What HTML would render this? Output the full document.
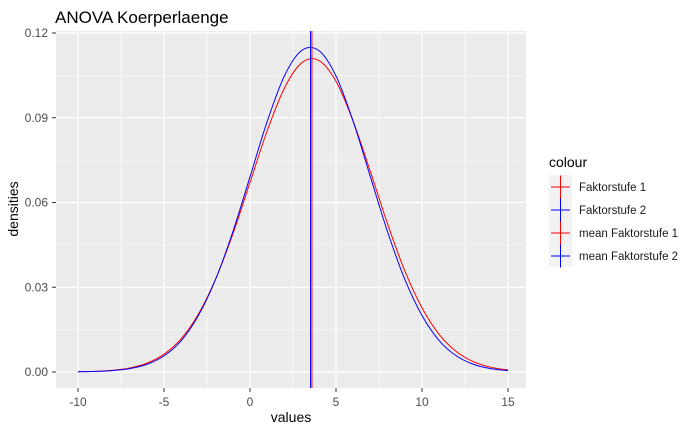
<!DOCTYPE html>
<html><head><meta charset="utf-8"><style>
body{margin:0;background:#fff;font-family:"Liberation Sans",sans-serif}
svg text{font-family:"Liberation Sans",sans-serif}
</style></head><body>
<svg id="chart" width="700" height="432">
<text x="55" y="23" font-size="17" fill="#000">ANOVA Koerperlaenge</text>
<rect x="56" y="31" width="470" height="357" fill="#ebebeb"/>
<g id="grid"></g><g id="axes"></g><g id="series"></g>
<text x="291" y="422" font-size="14" text-anchor="middle">values</text>
<text transform="translate(18,209) rotate(-90)" font-size="14" text-anchor="middle">densities</text>
<g>
<text x="549" y="167" font-size="14">colour</text>
<rect x="549" y="175" width="23" height="92" fill="#f2f2f2"/>
<g id="legend"></g>
</g>
</svg>
<script>
const xs=[-10,-9,-8,-7,-6,-5,-4,-3,-2,-1,0,1,2,3,4,5,6,7,8,9,10,11,12,13,14,15];
const dens1=[0.0001,0.0002,0.0006,0.0014,0.0031,0.0063,0.0118,0.0205,0.0329,0.0488,0.0671,0.0854,0.1005,0.1094,0.1103,0.1029,0.0887,0.0709,0.0524,0.0358,0.0227,0.0133,0.0072,0.0036,0.0017,0.0007];
const dens2=[0.0001,0.0002,0.0005,0.0012,0.0027,0.0057,0.0111,0.0200,0.0328,0.0496,0.0691,0.0887,0.1048,0.1138,0.1138,0.1048,0.0887,0.0691,0.0496,0.0328,0.0200,0.0111,0.0057,0.0027,0.0012,0.0005];
const means=[3.6,3.52];
const xTicks=[-10,-5,0,5,10,15];
const yTicks=[0,0.03,0.06,0.09,0.12];
const yTickLabels=["0.00","0.03","0.06","0.09","0.12"];
const legendLabels=["Faktorstufe 1","Faktorstufe 2","mean Faktorstufe 1","mean Faktorstufe 2"];
const legendColors=["red","blue","red","blue"];
const NS="http://www.w3.org/2000/svg";
const X=v=>78+(v+10)*(430/25);
const Y=v=>372-v*(339/0.12);
function mk(tag,attrs,parent){const e=document.createElementNS(NS,tag);for(const k in attrs)e.setAttribute(k,attrs[k]);parent.appendChild(e);return e;}
const grid=document.getElementById('grid'),axes=document.getElementById('axes'),ser=document.getElementById('series'),leg=document.getElementById('legend');
for(let i=0;i<xTicks.length-1;i++){const m=(xTicks[i]+xTicks[i+1])/2;const l=mk('line',{x1:X(m),x2:X(m),y1:31,y2:388,stroke:'#fff','stroke-width':0.6},grid);

}
for(let i=0;i<yTicks.length-1;i++){const m=(yTicks[i]+yTicks[i+1])/2;const l=mk('line',{x1:56,x2:526,y1:Y(m),y2:Y(m),stroke:'#fff','stroke-width':0.6},grid);

}
xTicks.forEach(t=>{const l=mk('line',{x1:X(t),x2:X(t),y1:31,y2:388,stroke:'#fff','stroke-width':1.2},grid);


mk('line',{x1:X(t),x2:X(t),y1:388,y2:392,stroke:'#333'},axes);
const tx=mk('text',{x:X(t),y:406,'font-size':12,fill:'#4d4d4d','text-anchor':'middle'},axes);tx.textContent=t;

});
yTicks.forEach((t,i)=>{const l=mk('line',{x1:56,x2:526,y1:Y(t),y2:Y(t),stroke:'#fff','stroke-width':1.2},grid);


mk('line',{x1:52,x2:56,y1:Y(t),y2:Y(t),stroke:'#333'},axes);
const tx=mk('text',{x:48,y:Y(t)+4,'font-size':12,fill:'#4d4d4d','text-anchor':'end'},axes);tx.textContent=yTickLabels[i];

});
function curve(d){const p=xs.map((x,i)=>[X(x),Y(d[i])]);let s='M'+p[0][0]+','+p[0][1];
for(let i=0;i<p.length-1;i++){const p0=p[Math.max(0,i-1)],p1=p[i],p2=p[i+1],p3=p[Math.min(p.length-1,i+2)];
s+=' C'+(p1[0]+(p2[0]-p0[0])/6)+','+(p1[1]+(p2[1]-p0[1])/6)+' '+(p2[0]-(p3[0]-p1[0])/6)+','+(p2[1]-(p3[1]-p1[1])/6)+' '+p2[0]+','+p2[1];}return s;}
const c1=mk('path',{d:curve(dens1),fill:'none',stroke:'red','stroke-width':1},ser);


const c2=mk('path',{d:curve(dens2),fill:'none',stroke:'blue','stroke-width':1},ser);


means.forEach((m,i)=>{const l=mk('line',{x1:X(m),x2:X(m),y1:31,y2:388,stroke:i?'blue':'red','stroke-width':1},ser);

});
legendLabels.forEach((lab,i)=>{const y=187+i*23;
const g=mk('g',{},leg);


mk('line',{x1:551,x2:570,y1:y,y2:y,stroke:legendColors[i]},g);
mk('line',{x1:560.5,x2:560.5,y1:y-11.5,y2:y+11.5,stroke:legendColors[i]},g);
const t=mk('text',{x:579,y:y+4,'font-size':11.5,fill:'#1a1a1a'},g);t.textContent=lab;});
</script>
</body></html>
